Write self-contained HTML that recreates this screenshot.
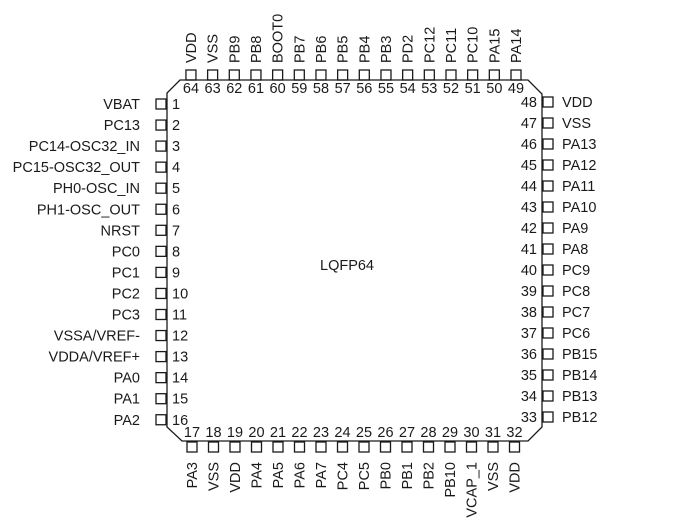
<!DOCTYPE html>
<html><head><meta charset="utf-8"><style>html,body{margin:0;padding:0;background:#fff}svg{display:block}text{font-family:"Liberation Sans",Arial,sans-serif;font-size:14.5px;fill:#1a1a1a}</style></head>
<body>
<svg id="s" width="680" height="528" viewBox="0 0 680 528" xmlns="http://www.w3.org/2000/svg">
<polygon points="180,80 528,80 542,94 542,427 528,441 182,441 167,427 167,93" fill="none" stroke="#1a1a1a" stroke-width="1.3"/>
<text x="347" y="270" text-anchor="middle">LQFP64</text>
<g id="g" fill="none" stroke="#1a1a1a" stroke-width="1.3"></g>
</svg>
<script>
var s=document.getElementById('s'),g=document.getElementById('g'),NS='http://www.w3.org/2000/svg';
function r(x,y){var e=document.createElementNS(NS,'rect');e.setAttribute('x',x);e.setAttribute('y',y);e.setAttribute('width',10);e.setAttribute('height',10);g.appendChild(e);}
function t(x,y,str,anchor,rot){var e=document.createElementNS(NS,'text');e.textContent=str;e.setAttribute('text-anchor',anchor||'start');if(rot){e.setAttribute('transform','translate('+x+','+y+') rotate(-90)');}else{e.setAttribute('x',x);e.setAttribute('y',y);}s.appendChild(e);}
var L=["VBAT","PC13","PC14-OSC32_IN","PC15-OSC32_OUT","PH0-OSC_IN","PH1-OSC_OUT","NRST","PC0","PC1","PC2","PC3","VSSA/VREF-","VDDA/VREF+","PA0","PA1","PA2"];
var B=["PA3","VSS","VDD","PA4","PA5","PA6","PA7","PC4","PC5","PB0","PB1","PB2","PB10","VCAP_1","VSS","VDD"];
var R=["PB12","PB13","PB14","PB15","PC6","PC7","PC8","PC9","PA8","PA9","PA10","PA11","PA12","PA13","VSS","VDD"];
var T=["PA14","PA15","PC10","PC11","PC12","PD2","PB3","PB4","PB5","PB6","PB7","BOOT0","PB8","PB9","VSS","VDD"];
for(var i=0;i<16;i++){
 var y=104+i*21.05; r(156,y-5); t(140,y+5,L[i],'end'); t(172,y+5,String(i+1));
 var x=192+i*21.5; r(x-5,442); t(x,437,String(17+i),'middle'); t(x+5,462,B[i],'end',true);
 var yr=417-i*21; r(543,yr-5); t(537,yr+5,String(33+i),'end'); t(562,yr+5,R[i]);
 var xt=516-i*21.67; r(xt-5,70); t(xt,93,String(49+i),'middle'); t(xt+5,63,T[i],'start',true);
}
</script>
</body></html>
